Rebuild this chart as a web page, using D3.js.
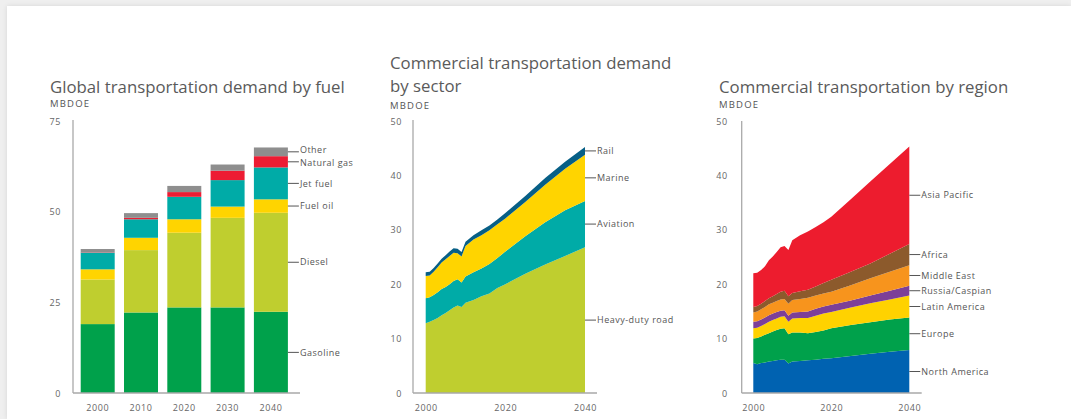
<!DOCTYPE html>
<html>
<head>
<meta charset="utf-8">
<script src="https://cdn.jsdelivr.net/npm/d3@7"></script>
<style>
  html, body { margin: 0; padding: 0; }
  body { width: 1071px; height: 419px; background: #efefef; overflow: hidden; position: relative; }
  #card { position: absolute; left: 7px; top: 6px; width: 1064px; height: 413px; background: #fff;
          box-shadow: 0 0 5px rgba(0,0,0,0.10); }
  svg { position: absolute; left: 0; top: 0; }
  text { font-family: "Open Sans", "Noto Sans", sans-serif; fill: #555; }
  .title { font-size: 16.8px; fill: #5a5a5a; }
  .unit { font-size: 9.5px; fill: #555; letter-spacing: 1.2px; }
  .tick text { font-size: 9px; fill: #666; letter-spacing: 0.6px; }
  .lbl { font-size: 9px; fill: #555; letter-spacing: 0.5px; }
</style>
</head>
<body>
<div id="card"></div>
<svg id="chart" width="1071" height="419"></svg>
<script>
// ---------- Global transportation demand by fuel (MBDOE) ----------
const fuelYears = ["2000", "2010", "2020", "2030", "2040"];
const fuelNames = ["Gasoline", "Diesel", "Fuel oil", "Jet fuel", "Natural gas", "Other"];
const gasoline   = [19.0, 22.2, 23.6, 23.6, 22.4];
const diesel     = [12.3, 17.2, 20.6, 24.7, 27.3];
const fuelOil    = [2.8, 3.4, 3.7, 3.1, 3.7];
const jetFuel    = [4.6, 5.1, 6.2, 7.3, 8.8];
const naturalGas = [0.1, 0.4, 1.3, 2.6, 3.1];
const otherFuel  = [0.9, 1.3, 1.7, 1.7, 2.4];
const fuelTicks  = [0, 25, 50, 75];

// ---------- Commercial transportation demand by sector (MBDOE) ----------
const areaYears = [2000, 2001, 2002, 2003, 2004, 2005, 2006, 2007, 2008, 2009, 2010,
                   2012, 2014, 2016, 2018, 2020, 2025, 2030, 2035, 2040];
const sectorNames = ["Heavy-duty road", "Aviation", "Marine", "Rail"];
const heavyDuty = [12.8, 13.1, 13.4, 13.8, 14.3, 14.7, 15.2, 15.7, 16.1, 15.8, 16.6,
                   17.1, 17.8, 18.3, 19.3, 20.0, 21.9, 23.6, 25.2, 26.8];
const aviation  = [4.6, 4.5, 4.6, 4.7, 4.8, 4.8, 4.8, 4.9, 4.8, 4.5, 4.8,
                   5.1, 5.1, 5.4, 5.5, 6.0, 6.9, 7.8, 8.4, 8.5];
const marine    = [4.1, 4.0, 4.3, 4.6, 4.9, 5.1, 5.2, 5.2, 4.8, 4.8, 5.6,
                   6.0, 6.1, 6.2, 6.2, 6.1, 6.3, 6.9, 7.6, 8.5];
const rail      = [0.7, 0.7, 0.7, 0.7, 0.7, 0.7, 0.8, 0.8, 0.8, 0.8, 0.8,
                   0.8, 0.9, 0.9, 0.9, 1.0, 1.1, 1.2, 1.3, 1.4];

// ---------- Commercial transportation by region (MBDOE) ----------
const regionNames = ["North America", "Europe", "Latin America", "Russia/Caspian",
                     "Middle East", "Africa", "Asia Pacific"];
const northAmerica = [5.5, 5.3, 5.5, 5.6, 5.8, 5.9, 6.0, 6.1, 6.1, 5.4, 5.8,
                      5.9, 6.0, 6.1, 6.3, 6.4, 6.8, 7.2, 7.6, 7.9];
const europe       = [4.5, 4.8, 4.9, 5.1, 5.2, 5.4, 5.6, 5.7, 5.8, 5.4, 5.3,
                      5.2, 5.0, 5.1, 5.2, 5.5, 5.7, 5.8, 5.9, 6.0];
const latinAmerica = [1.9, 1.9, 1.9, 2.0, 2.1, 2.1, 2.1, 2.2, 2.2, 2.3, 2.6,
                      2.7, 2.8, 3.0, 3.1, 3.0, 3.2, 3.5, 3.7, 4.0];
const russia       = [1.2, 1.2, 1.2, 1.2, 1.2, 1.2, 1.2, 1.1, 1.1, 1.1, 1.1,
                      1.1, 1.2, 1.3, 1.3, 1.3, 1.3, 1.4, 1.6, 1.8];
const middleEast   = [1.7, 1.8, 1.9, 1.9, 2.0, 2.0, 2.0, 2.1, 2.1, 2.2, 2.3,
                      2.4, 2.5, 2.4, 2.4, 2.4, 2.8, 3.2, 3.5, 3.8];
const africa       = [1.0, 1.0, 1.0, 1.1, 1.1, 1.2, 1.3, 1.4, 1.5, 1.4, 1.3,
                      1.4, 1.5, 1.7, 1.9, 2.2, 2.5, 2.7, 3.3, 3.9];
const asiaPacific  = [6.2, 6.1, 6.2, 6.4, 7.0, 7.3, 7.7, 8.2, 8.2, 8.5, 9.7,
                      10.3, 10.7, 10.9, 11.2, 11.6, 13.3, 15.1, 16.5, 17.9];

const areaTicks = [0, 10, 20, 30, 40, 50];
const areaYearTicks = [2000, 2020, 2040];

const fuelColors   = ["#00a14b", "#bfce2f", "#ffd400", "#00aba7", "#ed1c33", "#8e8e8e"];
const sectorColors = ["#bfce2f", "#00aba7", "#ffd400", "#075f86"];
const regionColors = ["#0062b1", "#00a14b", "#ffd200", "#7d3f98", "#f7941d", "#8c5a2c", "#ed1c2e"];

const svg = d3.select("#chart");
const axisColor = "#a9a9a9";

function yAxisLabels(g, scale, ticks, x, pad) {
  const ax = g.append("g").attr("transform", `translate(${x},0)`)
    .call(d3.axisLeft(scale).tickValues(ticks).tickSize(0).tickPadding(pad));
  ax.select(".domain").remove();
  ax.selectAll("text").attr("dy", "0.35em");
}

function axisLines(g, x0, yTop, yBottom, xEnd) {
  g.append("line").attr("x1", x0).attr("x2", x0).attr("y1", yTop).attr("y2", yBottom)
    .attr("stroke", axisColor).attr("stroke-width", 1.3);
  g.append("line").attr("x1", x0).attr("x2", xEnd).attr("y1", yBottom).attr("y2", yBottom)
    .attr("stroke", axisColor).attr("stroke-width", 1.3);
}

// Leader line plus name for each series at its right end; `nudge` shifts a
// crowded name slightly off its leader line.
function endLabels(g, items, x0, len, nudge = {}) {
  items.forEach(d => {
    g.append("line").attr("x1", x0).attr("x2", x0 + len).attr("y1", d.y).attr("y2", d.y)
      .attr("stroke", "#555").attr("stroke-width", 1);
    g.append("text").attr("class", "lbl").attr("x", x0 + len + 1).attr("y", d.y + (nudge[d.name] || 0))
      .attr("dy", "0.35em").text(d.name);
  });
}

// ======================= Chart 1: stacked bars =======================
{
  const g = svg.append("g");
  const rows = fuelYears.map((yr, i) => ({
    year: yr, "Gasoline": gasoline[i], "Diesel": diesel[i], "Fuel oil": fuelOil[i],
    "Jet fuel": jetFuel[i], "Natural gas": naturalGas[i], "Other": otherFuel[i]
  }));
  const series = d3.stack().keys(fuelNames)(rows);
  const x = d3.scaleBand().domain(fuelYears).range([73, 295.6]).paddingInner(0.215).paddingOuter(0.178);
  const y = d3.scaleLinear().domain([0, 75]).range([393, 121]);

  g.append("text").attr("class", "title").attr("x", 50).attr("y", 93).text("Global transportation demand by fuel");
  g.append("text").attr("class", "unit").attr("x", 50).attr("y", 107).text("MBDOE");

  series.forEach((s, k) => {
    g.append("g").attr("fill", fuelColors[k]).selectAll("rect").data(s).join("rect")
      .attr("x", d => x(d.data.year)).attr("width", x.bandwidth())
      .attr("y", d => y(d[1])).attr("height", d => y(d[0]) - y(d[1]));
  });

  axisLines(g, 73, 120, 393, 300);
  yAxisLabels(g, y, fuelTicks, 73, 12);
  const xa = g.append("g").attr("transform", "translate(0,393)")
    .call(d3.axisBottom(x).tickSize(0).tickPadding(12));
  xa.select(".domain").remove();

  const last = fuelYears.length - 1;
  const barRight = x(fuelYears[last]) + x.bandwidth();
  endLabels(g, series.map(s => ({ name: s.key, y: y((s[last][0] + s[last][1]) / 2) })), barRight, 11,
            { "Other": -1.8, "Natural gas": 1 });
}

// ======================= Chart 2: stacked area by sector =======================
{
  const g = svg.append("g");
  const rows = areaYears.map((yr, i) => ({
    year: yr, "Heavy-duty road": heavyDuty[i], "Aviation": aviation[i], "Marine": marine[i], "Rail": rail[i]
  }));
  const series = d3.stack().keys(sectorNames)(rows);
  const x = d3.scaleLinear().domain([2000, 2040]).range([425.7, 585]);
  const y = d3.scaleLinear().domain([0, 50]).range([393, 121]);
  const area = d3.area().x(d => x(d.data.year)).y0(d => y(d[0])).y1(d => y(d[1]));

  g.append("text").attr("class", "title").attr("x", 390).attr("y", 69).text("Commercial transportation demand");
  g.append("text").attr("class", "title").attr("x", 390).attr("y", 92).text("by sector");
  g.append("text").attr("class", "unit").attr("x", 390).attr("y", 109).text("MBDOE");

  g.selectAll("path.layer").data(series).join("path").attr("class", "layer")
    .attr("fill", (d, k) => sectorColors[k]).attr("d", area);

  axisLines(g, 413, 120, 393, 597);
  yAxisLabels(g, y, areaTicks, 413, 11);
  const xa = g.append("g").attr("transform", "translate(0,393)")
    .call(d3.axisBottom(x).tickValues(areaYearTicks).tickFormat(d3.format("d")).tickSize(0).tickPadding(12));
  xa.select(".domain").remove();

  const last = areaYears.length - 1;
  endLabels(g, series.map(s => ({ name: s.key, y: y((s[last][0] + s[last][1]) / 2) })), 585, 11);
}

// ======================= Chart 3: stacked area by region =======================
{
  const g = svg.append("g");
  const cols = [northAmerica, europe, latinAmerica, russia, middleEast, africa, asiaPacific];
  const rows = areaYears.map((yr, i) => {
    const r = { year: yr };
    regionNames.forEach((n, k) => { r[n] = cols[k][i]; });
    return r;
  });
  const series = d3.stack().keys(regionNames)(rows);
  const x = d3.scaleLinear().domain([2000, 2040]).range([753.3, 909.3]);
  const y = d3.scaleLinear().domain([0, 50]).range([393, 121]);
  const area = d3.area().x(d => x(d.data.year)).y0(d => y(d[0])).y1(d => y(d[1]));

  g.append("text").attr("class", "title").attr("x", 719).attr("y", 93).text("Commercial transportation by region");
  g.append("text").attr("class", "unit").attr("x", 719).attr("y", 108).text("MBDOE");

  g.selectAll("path.layer").data(series).join("path").attr("class", "layer")
    .attr("fill", (d, k) => regionColors[k]).attr("d", area);

  axisLines(g, 741.7, 121, 393, 921.7);
  yAxisLabels(g, y, areaTicks, 741.7, 14);
  const xa = g.append("g").attr("transform", "translate(0,393)")
    .call(d3.axisBottom(x).tickValues(areaYearTicks).tickFormat(d3.format("d")).tickSize(0).tickPadding(12));
  xa.select(".domain").remove();

  const last = areaYears.length - 1;
  endLabels(g, series.map(s => ({ name: s.key, y: y((s[last][0] + s[last][1]) / 2) })), 909.3, 11);
}
</script>
</body>
</html>
